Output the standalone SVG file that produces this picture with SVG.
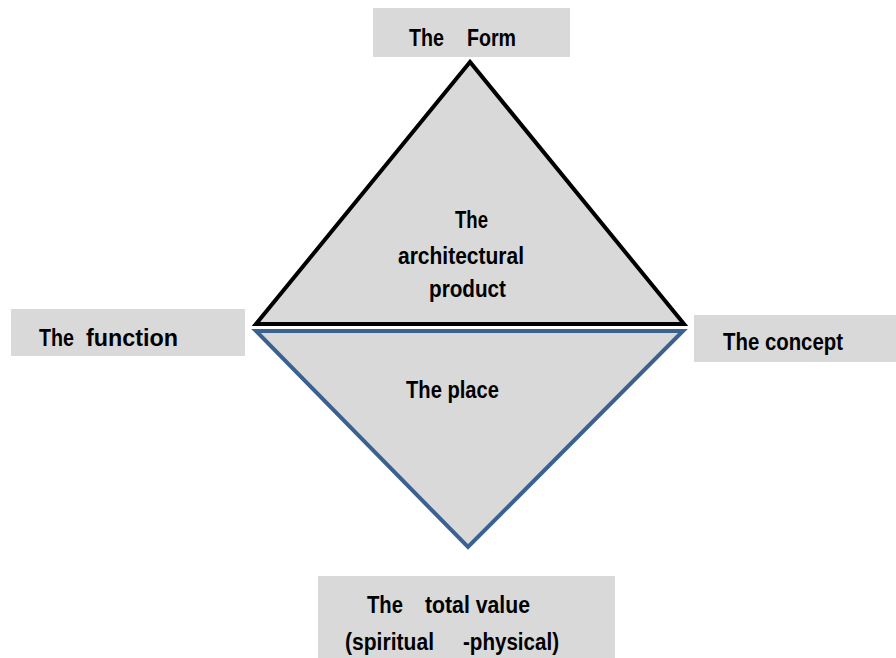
<svg xmlns="http://www.w3.org/2000/svg" width="896" height="658" viewBox="0 0 896 658">
  <style>
    .box { fill: #d9d9d9; }
    .lbl { font-family: "Liberation Sans", Arial, sans-serif; font-weight: bold; font-size: 23px; fill: #000; }
  </style>
  <rect width="896" height="658" fill="#ffffff"/>

  <!-- Upper triangle: the architectural product -->
  <g id="product">
    <polygon points="470,62 256,324 684,324" fill="#d9d9d9" stroke="#000000" stroke-width="4" stroke-linejoin="miter"/>
    <text class="lbl" x="455" y="228" textLength="33" lengthAdjust="spacingAndGlyphs">The</text>
    <text class="lbl" x="398" y="264" textLength="126" lengthAdjust="spacingAndGlyphs">architectural</text>
    <text class="lbl" x="429" y="297" textLength="77" lengthAdjust="spacingAndGlyphs">product</text>
  </g>

  <!-- Lower triangle: the place -->
  <g id="place">
    <polygon points="256,331 683,331 468,547" fill="#d9d9d9" stroke="#3b6190" stroke-width="4" stroke-linejoin="miter"/>
    <text class="lbl" x="406" y="398" textLength="93" lengthAdjust="spacingAndGlyphs">The place</text>
  </g>

  <g id="form">
    <rect class="box" x="373" y="8" width="197" height="49"/>
    <text class="lbl" x="409" y="46" textLength="35" lengthAdjust="spacingAndGlyphs">The</text>
    <text class="lbl" x="467" y="46" textLength="49" lengthAdjust="spacingAndGlyphs">Form</text>
  </g>

  <g id="function">
    <rect class="box" x="11" y="309" width="234" height="47"/>
    <text class="lbl" x="39" y="346" textLength="35" lengthAdjust="spacingAndGlyphs">The</text>
    <text class="lbl" x="86" y="346" textLength="92" lengthAdjust="spacingAndGlyphs">function</text>
  </g>

  <g id="concept">
    <rect class="box" x="694" y="315" width="202" height="47"/>
    <text class="lbl" x="723" y="350" textLength="120" lengthAdjust="spacingAndGlyphs">The concept</text>
  </g>

  <g id="total-value">
    <rect class="box" x="318" y="576" width="297" height="82"/>
    <text class="lbl" x="367" y="613" textLength="36" lengthAdjust="spacingAndGlyphs">The</text>
    <text class="lbl" x="425" y="613" textLength="105" lengthAdjust="spacingAndGlyphs">total value</text>
    <text class="lbl" x="345" y="650" textLength="89" lengthAdjust="spacingAndGlyphs">(spiritual</text>
    <text class="lbl" x="463" y="650" textLength="96" lengthAdjust="spacingAndGlyphs">-physical)</text>
  </g>

  <g id="connectors"></g>
</svg>
